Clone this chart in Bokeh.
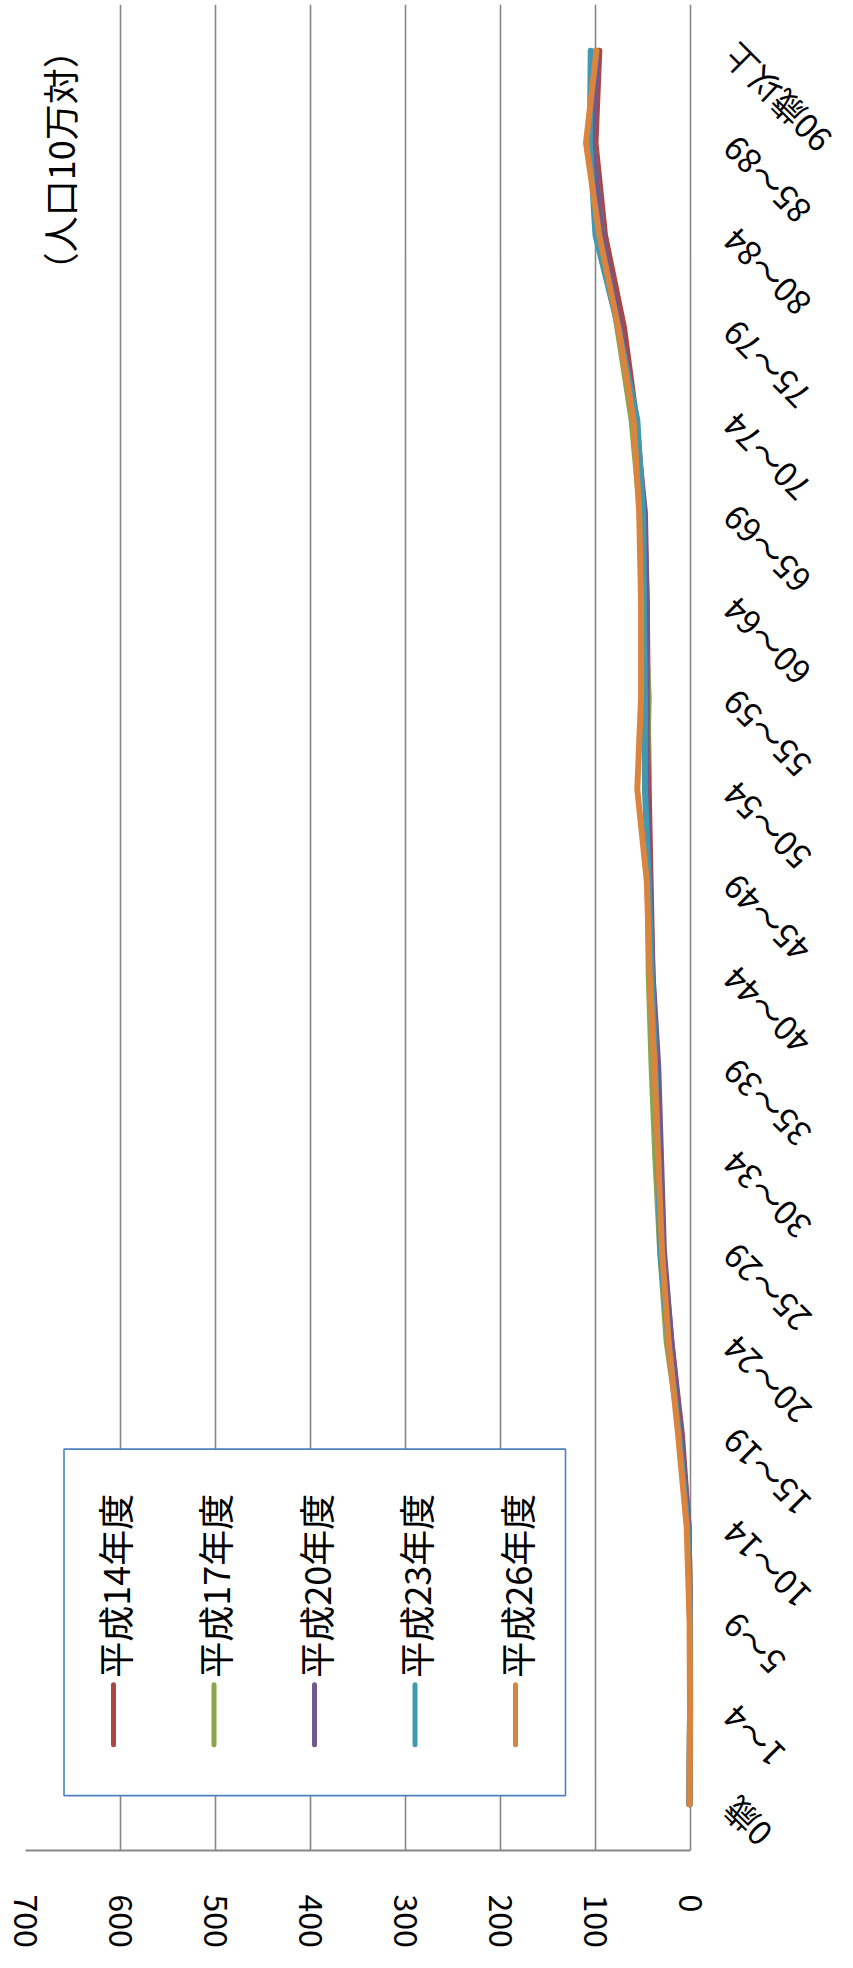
import math
from bokeh.plotting import figure
from bokeh.models import Range1d, FixedTicker
from bokeh.embed import file_html
from bokeh.resources import INLINE
from bokeh.core.properties import value

# ---- data ----
age_groups = ["0歳", "1～4", "5～9", "10～14", "15～19", "20～24", "25～29", "30～34",
              "35～39", "40～44", "45～49", "50～54", "55～59", "60～64", "65～69",
              "70～74", "75～79", "80～84", "85～89", "90歳以上"]
series_names = ["平成14年度", "平成17年度", "平成20年度", "平成23年度", "平成26年度"]
h14 = [1, 0.5, 0.5, 2, 9, 20, 29, 32, 36, 40, 42, 44, 45, 46, 49, 57, 70, 90, 100, 96]
h17 = [1, 0.5, 0.5, 2, 11, 25, 32, 37, 41, 44, 45, 46, 44, 49, 53, 62, 77, 93, 103, 100]
h20 = [1, 0.5, 0.5, 2, 10, 20, 28, 31, 34, 40, 43, 46, 46, 46, 48, 58, 74, 93, 103, 98]
h23 = [1, 0.5, 0.5, 3, 12, 23, 32, 34, 37, 41, 44, 48, 48, 49, 50, 56, 76, 100, 106, 105]
h26 = [1, 0.5, 1, 4, 13, 23, 30, 34, 38, 43, 46, 56, 52, 52, 54, 60, 76, 96, 110, 99]
value_ticks = [0, 100, 200, 300, 400, 500, 600, 700]
unit_label = "（人口10万対）"

series_values = [h14, h17, h20, h23, h26]
colors = ["#AA4643", "#89A54E", "#71588F", "#4198AF", "#DB843D"]
FONT = "Noto Sans CJK JP"

# ---- layout (page pixels) ----
W, H = 845, 1950
FL, FR = 33, 698            # page x of value 700 / value 0
FT, FB = 12, 1861           # page y of frame top / bottom
PAGE_RIGHT = 8 + W
VMAX = value_ticks[-1]
X_EXTRA = (PAGE_RIGHT - FR) * VMAX / (FR - FL)
Y0, Y1 = -0.5, 19.5

def vx(px):
    return VMAX * (FR - px) / (FR - FL)

def vy(py):
    return Y1 - (py - FT) * (Y1 - Y0) / (FB - FT)

p = figure(width=W, height=H, output_backend="svg", toolbar_location=None,
           x_range=Range1d(VMAX, -X_EXTRA), y_range=Range1d(Y0, Y1),
           y_axis_location=None, min_border_left=FL - 8, min_border_right=0,
           min_border_top=FT - 8, min_border_bottom=H - (FB - 8))
p.outline_line_color = None
p.background_fill_color = "white"
p.border_fill_color = "white"

p.xgrid.ticker = FixedTicker(ticks=value_ticks)
p.xgrid.grid_line_color = "#868686"
p.xgrid.grid_line_width = 1.6
p.ygrid.visible = False

ax = p.xaxis[0]
ax.ticker = FixedTicker(ticks=value_ticks)
ax.bounds = (0, VMAX)
ax.major_label_orientation = "vertical"
ax.major_label_text_font = FONT
ax.major_label_text_font_size = "32px"
ax.major_label_text_color = "black"
ax.major_label_standoff = 44
ax.major_tick_out = 0
ax.major_tick_in = 0
ax.minor_tick_out = 0
ax.minor_tick_in = 0
ax.axis_line_color = "#868686"
ax.axis_line_width = 2

# ---- series ----
ys = list(range(len(age_groups)))
for vals, c in zip(series_values, colors):
    p.line(x=vals, y=ys, line_color=c, line_width=6, line_join="round", line_cap="round")

# ---- legend (custom, rotated) ----
p.quad(left=[vx(71.5)], right=[vx(573)], top=[vy(1459)], bottom=[vy(1806)],
       fill_color="white", line_color="#4F81BD", line_width=1.6)
leg_px = [121 + k * 100.5 for k in range(len(series_names))]
leg_x = [vx(px) for px in leg_px]
p.segment(x0=leg_x, y0=[vy(1755)] * len(leg_x), x1=leg_x, y1=[vy(1695)] * len(leg_x),
          line_color=colors, line_width=5, line_cap="round")
p.text(x=leg_x, y=[vy(1688)] * len(leg_x), text=series_names, angle=math.pi / 2,
       text_align="left", text_baseline="middle", text_font=value(FONT),
       text_font_size="36px", text_color="black")

# ---- category labels (right side, rotated) ----
p.text(x=[0] * len(age_groups), y=ys, text=age_groups, x_offset=38,
       angle=3 * math.pi / 4, text_align="right", text_baseline="middle",
       text_font=value(FONT), text_font_size="33px", text_color="black")

# ---- unit label ----
p.text(x=[VMAX], y=[vy(168)], text=[unit_label], x_offset=33, angle=math.pi / 2,
       text_align="center", text_baseline="middle", text_font=value(FONT),
       text_font_size="36px", text_color="black")

open("out.html", "w").write(file_html(p, INLINE))
